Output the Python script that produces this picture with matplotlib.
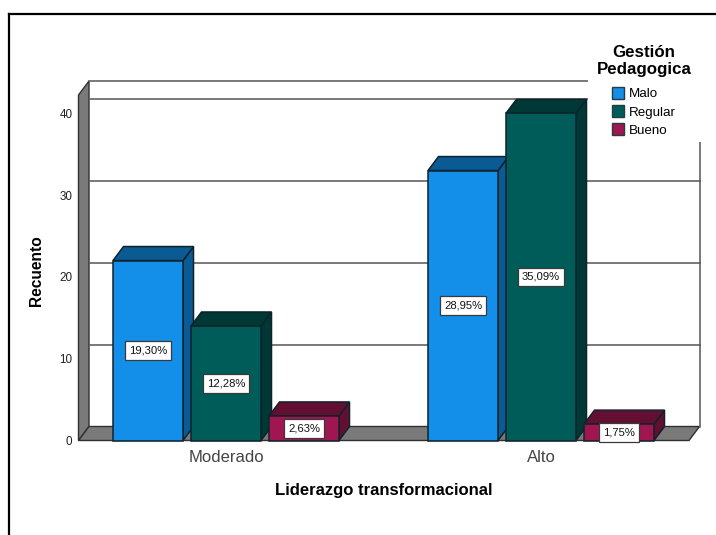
import matplotlib
matplotlib.use("Agg")
import matplotlib.pyplot as plt
from matplotlib.lines import Line2D
from matplotlib.patches import Patch, Polygon, Rectangle
import numpy as np

plt.rcParams["font.family"] = ["Liberation Sans", "DejaVu Sans"]

W, H = 716, 535

categories = ["Moderado", "Alto"]
series = ["Malo", "Regular", "Bueno"]
counts = {
    "Malo": [22, 33],
    "Regular": [14, 40],
    "Bueno": [3, 2],
}
pct_labels = {
    "Malo": ["19,30%", "28,95%"],
    "Regular": ["12,28%", "35,09%"],
    "Bueno": ["2,63%", "1,75%"],
}
y_ticks = [0, 10, 20, 30, 40]

C_FACE = {"Malo": "#138ee9", "Regular": "#005c59", "Bueno": "#a01650"}
C_DARK = {"Malo": "#0a5a94", "Regular": "#003836", "Bueno": "#620f32"}
C_EDGE = "#10222c"
C_WALL = "#7a7a7a"
C_LINE = "#555555"

fig = plt.figure(figsize=(W / 100, H / 100), dpi=100, facecolor="white")
# plot box in pixels: left, bottom, right, top of the front plane
L, B, R, T = 78.5, 440.5, 689, 95
ax = fig.add_axes([L / W, 1 - B / H, (R - L) / W, (B - T) / H])
px_y = 8.18
px_x = 315.0
ax.set_xlim((L - 226) / px_x, (R - 226) / px_x)
ax.set_ylim(0, (B - T) / px_y)
ax.patch.set_visible(False)
for sp in ax.spines.values():
    sp.set_visible(False)

# 3d depth of the box and the bars, in data units
dx = 10.5 / px_x
dy = 14.0 / px_y
x0, x1 = ax.get_xlim()
y1 = ax.get_ylim()[1]

# left wall and floor
ax.add_patch(Polygon([(x0, 0), (x0 + dx, dy), (x0 + dx, y1 + dy), (x0, y1)],
                     fc=C_WALL, ec="#303030", lw=1, clip_on=False, zorder=1))
ax.add_patch(Polygon([(x0, 0), (x0 + dx, dy), (x1 + dx, dy), (x1, 0)],
                     fc=C_WALL, ec="#303030", lw=1, clip_on=False, zorder=1))

# back wall lines
for v in y_ticks[1:]:
    ax.plot([x0 + dx, x1 + dx], [v + dy, v + dy], color=C_LINE, lw=1.1,
            clip_on=False, zorder=1.2)
ax.plot([x0 + dx, x1 + dx], [y1 + dy, y1 + dy], color=C_LINE, lw=1.1,
        clip_on=False, zorder=1.2)
ax.plot([x1 + dx, x1 + dx], [dy, y1 + dy], color=C_LINE, lw=1.1,
        clip_on=False, zorder=1.2)

# legend area blanks the corner of the box
ax.add_patch(Rectangle((588 / W, 1 - 142 / H), (W - 588) / W, 125 / H, fc="white", ec="none",
                       transform=fig.transFigure, clip_on=False, zorder=2))

bar_w = 70 / px_x
step = 78 / px_x
xpos = np.arange(len(categories))
z = 3
for i, name in enumerate(series):
    for j, v in enumerate(counts[name]):
        xl = xpos[j] + (i - 1) * step - bar_w / 2
        xr = xl + bar_w
        ax.add_patch(Polygon([(xr, 0), (xr + dx, dy), (xr + dx, v + dy), (xr, v)],
                             fc=C_DARK[name], ec=C_EDGE, lw=1.1, clip_on=False, zorder=z))
        ax.add_patch(Polygon([(xl, v), (xl + dx, v + dy), (xr + dx, v + dy), (xr, v)],
                             fc=C_DARK[name], ec=C_EDGE, lw=1.1, clip_on=False, zorder=z))
        ax.bar(xl, v, bar_w, align="edge", color=C_FACE[name], edgecolor=C_EDGE,
               linewidth=1.1, clip_on=False, zorder=z)
        z += 0.01

for i, name in enumerate(series):
    for j, v in enumerate(counts[name]):
        ax.text(xpos[j] + (i - 1) * step, v / 2, pct_labels[name][j], ha="center",
                va="center", fontsize=8.1, color="#111111", zorder=5,
                bbox=dict(boxstyle="square,pad=0.38", fc="white", ec="#3a3a3a", lw=0.9))

ax.set_xticks(xpos, categories, fontsize=12, color="#444444")
ax.set_yticks(y_ticks, [str(v) for v in y_ticks], fontsize=8.4, color="#222222")
ax.tick_params(axis="both", length=0)
ax.tick_params(axis="y", pad=4.5)
ax.tick_params(axis="x", pad=7)
ax.set_xlabel("Liderazgo transformacional", fontsize=12, fontweight="bold", labelpad=13)
fig.text(36 / W, 1 - 271 / H, "Recuento", rotation=90, ha="center", va="center",
         fontsize=11.2, fontweight="bold")

handles = [Patch(fc=C_FACE[n], ec="#2a3a40", lw=1) for n in series]
leg = ax.legend(handles, series, title="Gestión\nPedagogica", loc="upper center",
                bbox_to_anchor=(644 / W, 1 - 45 / H), bbox_transform=fig.transFigure,
                frameon=False, fontsize=9.6, handlelength=0.94, handleheight=0.94,
                handletextpad=0.35, labelspacing=0.36, borderpad=0, borderaxespad=0,
                title_fontproperties={"weight": "bold", "size": 12.2})
leg.get_title().set_multialignment("center")
leg._legend_box.sep = 7
leg.set_zorder(6)

# outer frame, open on the right and at the bottom
frame = dict(color="black", lw=1.6, transform=fig.transFigure)
fig.add_artist(Line2D([9 / W, 9 / W], [0, 1 - 13.5 / H], **frame))
fig.add_artist(Line2D([9 / W, 1], [1 - 13.5 / H, 1 - 13.5 / H], **frame))

fig.savefig("out.png", dpi=100)
